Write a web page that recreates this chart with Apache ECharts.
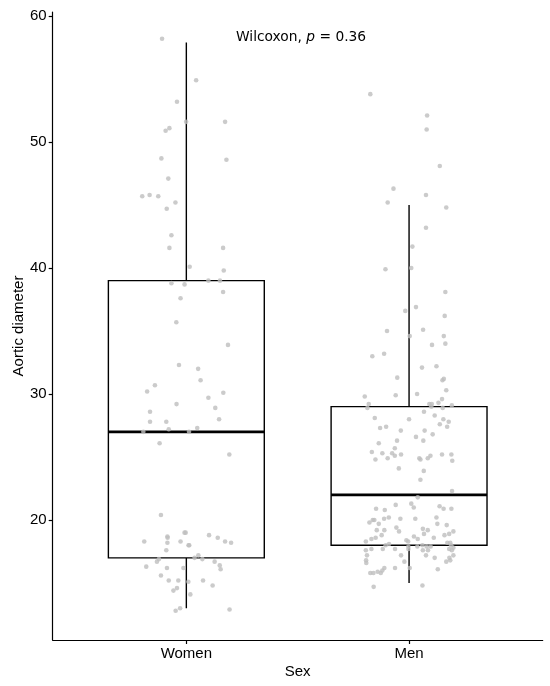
<!DOCTYPE html>
<html>
<head>
<meta charset="utf-8">
<script src="https://cdn.jsdelivr.net/npm/echarts@6/dist/echarts.min.js"></script>
<style>html,body{margin:0;padding:0;background:#fff;}#c{width:550px;height:686px;}</style>
</head>
<body>
<div id="c"></div>
<script>
const categories = ['Women', 'Men'];
const yTicks = [20, 30, 40, 50, 60];
// box statistics: [position, min, q1, median, q3, max]
const boxStats = [
  [1, 13.0, 17.0, 27.0, 39.0, 57.9],
  [2, 15.0, 18.0, 22.0, 29.0, 45.0]
];
// jittered points: [x (jittered position), aortic diameter]
const womenPoints = [
  [0.891,58.2],[1.044,54.9],[0.958,53.2],[0.999,51.6],[1.174,51.6],[0.907,50.9],[0.924,51.1],
  [0.888,48.7],[1.180,48.6],[0.919,47.1],[0.802,45.7],[0.835,45.8],[0.874,45.7],[0.951,45.2],
  [0.912,44.7],[0.933,42.6],[0.924,41.6],[1.165,41.6],[1.015,40.1],[1.168,39.8],[1.099,39.0],
  [1.151,39.0],[0.933,38.8],[0.992,38.7],[1.165,38.1],[0.974,37.6],[0.955,35.7],[1.187,33.9],
  [0.967,32.3],[1.053,32.0],[1.064,31.1],[0.859,30.7],[0.824,30.2],[1.166,30.1],[1.099,29.7],
  [0.956,29.2],[1.130,28.9],[0.837,28.6],[1.147,28.0],[0.837,27.8],[0.910,27.8],[0.921,27.2],
  [1.049,27.3],[0.807,27.0],[1.012,27.0],[0.880,26.1],[1.193,25.2],[0.886,20.4],[0.992,19.0],
  [0.997,19.0],[1.102,18.8],[1.141,18.6],[1.174,18.3],[1.201,18.2],[0.811,18.3],[0.915,18.7],
  [0.916,18.6],[0.915,18.2],[0.974,18.3],[1.010,18.0],[1.013,18.0],[0.910,17.6],[1.054,17.2],
  [1.037,17.0],[1.072,16.9],[0.868,16.7],[0.877,16.9],[1.127,16.7],[0.820,16.3],[0.913,16.2],
  [0.987,16.2],[1.150,16.4],[1.154,16.1],[0.886,15.6],[0.921,15.2],[0.964,15.2],[1.009,15.1],
  [1.075,15.2],[1.118,14.8],[0.958,14.6],[0.942,14.4],[1.018,14.1],[0.972,13.0],[0.952,12.8],
  [1.194,12.9]
];
const menPoints = [
  [1.826,53.8],[2.081,52.1],[2.079,51.0],[2.138,48.1],[1.930,46.3],[2.076,45.8],[1.904,45.2],
  [2.167,44.8],[2.076,43.2],[2.015,41.7],[1.894,39.9],[2.010,40.0],[2.163,38.1],[1.983,36.6],
  [2.031,36.9],[2.160,36.2],[1.901,35.0],[2.063,35.1],[2.003,34.6],[2.156,34.6],[2.103,33.9],
  [2.163,34.0],[1.835,33.0],[1.888,33.2],[2.058,32.1],[2.123,32.2],[1.947,31.3],[2.150,31.1],
  [2.156,31.2],[2.167,30.3],[1.801,29.8],[1.940,29.9],[2.036,30.0],[2.148,29.6],[1.819,29.2],
  [1.813,28.9],[2.091,29.2],[2.102,29.2],[2.132,29.3],[2.100,29.0],[2.151,28.9],[2.192,29.1],
  [2.067,28.6],[2.115,28.3],[1.846,28.1],[2.000,28.0],[2.154,28.0],[2.178,27.8],[2.138,27.6],
  [2.171,27.4],[1.870,27.3],[1.897,27.4],[1.963,27.1],[2.070,27.1],[2.106,26.8],[2.031,26.6],
  [2.064,26.3],[1.946,26.3],[1.864,26.1],[1.936,25.7],[1.833,25.4],[1.880,25.3],[1.924,25.3],
  [1.936,25.1],[1.964,25.2],[1.849,24.8],[1.904,24.9],[2.046,24.9],[2.051,24.8],[2.084,24.9],
  [2.096,25.1],[2.148,25.2],[2.190,25.2],[2.194,24.7],[1.954,24.1],[2.066,23.9],[2.051,23.2],
  [2.193,22.3],[2.039,21.8],[1.852,20.9],[1.940,21.2],[2.010,21.3],[2.021,21.0],[2.137,21.1],
  [2.155,20.9],[2.190,20.9],[1.891,20.8],[1.837,20.0],[1.844,20.0],[1.822,19.8],[1.888,20.1],
  [1.909,20.2],[1.961,20.1],[2.028,20.1],[2.123,20.2],[1.864,19.7],[2.127,19.7],[2.169,19.6],
  [1.943,19.4],[1.955,19.1],[1.855,19.2],[1.889,19.2],[2.062,19.3],[2.084,19.2],[1.877,18.8],
  [1.850,18.6],[2.067,18.9],[2.159,18.8],[2.180,18.9],[2.199,19.1],[2.022,18.7],[1.831,18.5],
  [1.806,18.3],[1.988,18.4],[1.996,18.3],[2.039,18.5],[2.111,18.6],[2.172,18.2],[2.185,18.2],
  [1.895,18.0],[1.910,18.1],[2.189,18.0],[2.199,17.8],[1.997,17.9],[2.037,17.9],[2.060,18.0],
  [2.079,17.9],[2.097,17.9],[1.806,17.6],[1.831,17.7],[1.882,17.7],[1.937,17.7],[1.997,17.7],
  [2.062,17.6],[2.085,17.6],[2.180,17.7],[2.192,17.6],[1.811,17.2],[1.964,17.2],[2.076,17.2],
  [2.115,17.0],[2.181,17.0],[2.199,17.2],[1.807,16.8],[1.808,16.6],[1.979,16.7],[2.167,16.7],
  [2.185,16.8],[2.003,16.2],[1.937,16.2],[2.129,16.1],[1.826,15.8],[1.840,15.8],[1.859,15.9],
  [1.873,15.8],[1.880,16.0],[1.889,16.2],[1.841,14.7],[2.060,14.8]
];
const annotation = 'Wilcoxon, p = 0.36';

const chart = echarts.init(document.getElementById('c'), null, {renderer: 'canvas'});
const BOX_HALF = 0.35;
const fontMain = '"Liberation Sans", Arial, sans-serif';

chart.setOption({
  animation: false,
  backgroundColor: '#ffffff',
  title: {
    text: '{n|Wilcoxon, }{i|p}{n| = 0.36}',
    left: 236, top: 30, padding: 0,
    textStyle: {
      fontWeight: 'normal',
      rich: {
        n: {fontFamily: 'DejaVu Sans', fontSize: 13.8, fontWeight: 'normal', color: '#000'},
        i: {fontFamily: 'DejaVu Sans', fontSize: 13.8, fontWeight: 'normal', fontStyle: 'italic', color: '#000'}
      }
    }
  },
  grid: {left: 52.7, right: 7.3, top: 12, bottom: 46, containLabel: false},
  xAxis: {
    type: 'value', min: 0.4, max: 2.6,
    name: 'Sex', nameLocation: 'middle', nameGap: 24, nameMoveOverlap: false,
    nameTextStyle: {fontFamily: fontMain, fontSize: 15, color: '#000'},
    splitLine: {show: false},
    axisLine: {show: true, lineStyle: {color: '#000', width: 1.2}},
    axisTick: {show: true, length: 4, lineStyle: {color: '#000', width: 1.2}, customValues: [1, 2]},
    axisLabel: {
      show: true, margin: 6, fontFamily: fontMain, fontSize: 15, color: '#000',
      customValues: [1, 2],
      formatter: v => categories[Math.round(v) - 1] || ''
    }
  },
  yAxis: {
    type: 'value', min: 10.48, max: 60.32,
    name: 'Aortic diameter', nameLocation: 'middle', nameGap: 26, nameMoveOverlap: false,
    nameTextStyle: {fontFamily: fontMain, fontSize: 15, color: '#000'},
    splitLine: {show: false},
    axisLine: {show: true, lineStyle: {color: '#000', width: 1.2}},
    axisTick: {show: true, length: 4, lineStyle: {color: '#000', width: 1.2}, customValues: yTicks},
    axisLabel: {show: true, margin: 6, fontFamily: fontMain, fontSize: 15, color: '#000', customValues: yTicks}
  },
  series: [
    {
      type: 'custom',
      data: boxStats,
      z: 2,
      renderItem: function (params, api) {
        const x = api.value(0);
        const mn = api.value(1), q1 = api.value(2), md = api.value(3), q3 = api.value(4), mx = api.value(5);
        const tl = api.coord([x - BOX_HALF, q3]);
        const br = api.coord([x + BOX_HALF, q1]);
        const ml = api.coord([x - BOX_HALF, md]);
        const mr = api.coord([x + BOX_HALF, md]);
        const wTop = api.coord([x, mx]);
        const wQ3 = api.coord([x, q3]);
        const wQ1 = api.coord([x, q1]);
        const wBot = api.coord([x, mn]);
        const st = {stroke: '#000', lineWidth: 1.4, fill: null};
        return {
          type: 'group',
          children: [
            {type: 'line', shape: {x1: wTop[0], y1: wTop[1], x2: wQ3[0], y2: wQ3[1]}, style: st},
            {type: 'line', shape: {x1: wQ1[0], y1: wQ1[1], x2: wBot[0], y2: wBot[1]}, style: st},
            {type: 'rect', shape: {x: tl[0], y: tl[1], width: br[0] - tl[0], height: br[1] - tl[1]},
              style: {stroke: '#000', lineWidth: 1.4, fill: '#fff'}},
            {type: 'line', shape: {x1: ml[0], y1: ml[1], x2: mr[0], y2: mr[1]},
              style: {stroke: '#000', lineWidth: 2.6}}
          ]
        };
      }
    },
    {
      type: 'scatter', data: womenPoints, symbol: 'circle', symbolSize: 4.6, z: 3,
      itemStyle: {color: '#BEBEBE'}
    },
    {
      type: 'scatter', data: menPoints, symbol: 'circle', symbolSize: 4.6, z: 3,
      itemStyle: {color: '#BEBEBE'}
    }
  ]
});
</script>
</body>
</html>
